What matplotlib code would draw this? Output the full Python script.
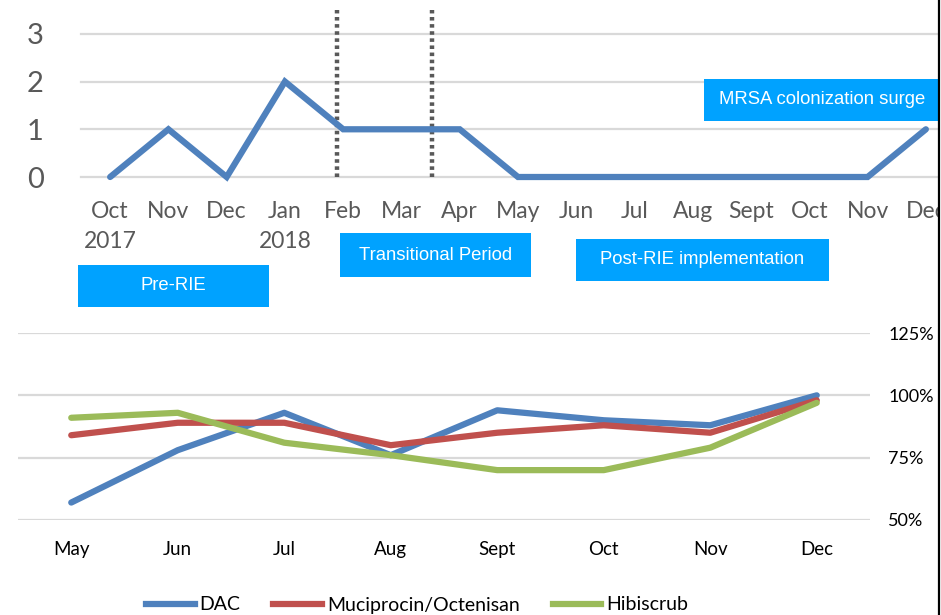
import matplotlib
matplotlib.use('Agg')
import matplotlib.pyplot as plt
from matplotlib.patches import Rectangle
from matplotlib.lines import Line2D

# top panel: MRSA colonization counts per month
top_months = ["Oct\n2017", "Nov", "Dec", "Jan\n2018", "Feb", "Mar", "Apr", "May",
              "Jun", "Jul", "Aug", "Sept", "Oct", "Nov", "Dec"]
top_counts = [0, 1, 0, 2, 1, 1, 1, 0, 0, 0, 0, 0, 0, 0, 1]

# bottom panel: compliance per product
bot_months = ["May", "Jun", "Jul", "Aug", "Sept", "Oct", "Nov", "Dec"]
dac = [57, 78, 93, 76, 94, 90, 88, 100]
mucip = [84, 89, 89, 80, 85, 88, 85, 98]
hibi = [91, 93, 81, 76, 70, 70, 79, 97]

W, H = 941, 615
fig = plt.figure(figsize=(W/100, H/100), dpi=100)
fig.patch.set_facecolor('white')

def px_axes(l, t, r, b):
  return fig.add_axes([l/W, (H-b)/H, (r-l)/W, (b-t)/H])

blue = '#4F81BD'
red = '#C0504D'
green = '#9BBB59'
grid_c = '#D9D9D9'
txt_c = '#595959'
box_c = '#00A2FF'

#---- top chart
ax = px_axes(81, 10, 955, 177)
x = list(range(len(top_counts)))
ax.plot(x, top_counts, color=blue, lw=4.5, solid_capstyle='round', solid_joinstyle='miter', clip_on=False, zorder=3)
ax.set_xlim(-0.5, len(top_counts)-0.5)
ax.set_ylim(0, 3.5)
ax.set_yticks([0, 1, 2, 3])
for yv in [0, 1, 2, 3]:
  ax.axhline(yv, color=grid_c, lw=1.6, zorder=1, clip_on=False)
ax.set_xticks(x)
ax.set_xticklabels(top_months, fontsize=16.5, color=txt_c, family='Lato', linespacing=1.55)
ax.tick_params(axis='x', length=0, pad=17)
ax.tick_params(axis='y', length=0, pad=27, labelsize=21, labelcolor=txt_c)
for lab in ax.get_yticklabels():
  lab.set_family('Lato')
for s in ax.spines.values():
  s.set_visible(False)
# transition period markers
for xv in [3.9, 5.53]:
  ax.axvline(xv, ymin=0, ymax=1, color=txt_c, lw=3.2, ls=(0, (0.8, 0.8)), zorder=2)

#---- bottom chart
bx = px_axes(18, 333, 870, 520)
xb = list(range(len(bot_months)))
bx.plot(xb, dac, color=blue, lw=4.5, solid_capstyle='round', label='DAC', zorder=3)
bx.plot(xb, mucip, color=red, lw=4.5, solid_capstyle='round', label='Muciprocin/Octenisan', zorder=3)
bx.plot(xb, hibi, color=green, lw=4.5, solid_capstyle='round', label='Hibiscrub', zorder=3)
bx.set_xlim(-0.5, len(bot_months)-0.5)
bx.set_ylim(50, 125)
bx.set_yticks([50, 75, 100, 125])
bx.set_yticklabels([f"{v}%" for v in [50, 75, 100, 125]], family='Lato', fontsize=13)
for yv in [50, 75, 100, 125]:
  bx.axhline(yv, color=grid_c, lw=1.6, zorder=1)
bx.yaxis.tick_right()
bx.set_xticks(xb)
bx.set_xticklabels(bot_months, family='Lato', fontsize=13.5)
bx.tick_params(axis='x', length=0, pad=15)
bx.tick_params(axis='y', length=0, pad=13)
for s in bx.spines.values():
  s.set_visible(False)
leg = fig.legend(handles=[Line2D([], [], color=c, lw=4.5) for c in (blue, red, green)],
                 labels=['DAC', 'Muciprocin/Octenisan', 'Hibiscrub'],
                 loc='center', bbox_to_anchor=(417/W, (H-605)/H), ncol=3, frameon=False,
                 prop={'family': 'Lato', 'size': 14}, handlelength=2.5, handletextpad=0.25,
                 columnspacing=1.7)

#---- period boxes
def box(l, t, r, b, s):
  fig.patches.append(Rectangle((l/W, (H-b)/H), (r-l)/W, (b-t)/H, transform=fig.transFigure,
                               facecolor=box_c, edgecolor='none', zorder=5))
  fig.text((l+r)/2/W, (H-(t+b)/2)/H, s, color='white', ha='center', va='center',
           family='Liberation Sans', fontsize=13.3, zorder=6)

box(78, 265, 269, 307, "Pre-RIE")
box(340, 233, 531, 277, "Transitional Period")
box(576, 239, 829, 281, "Post-RIE implementation")
box(704, 79, 940, 121, "MRSA colonization surge")

# right edge
fig.patches.append(Rectangle((939.5/W, 0), 2/W, 1, transform=fig.transFigure,
                             facecolor='white', edgecolor='none', zorder=7))
fig.lines.append(Line2D([938.5/W, 938.5/W], [0, 1], transform=fig.transFigure,
                        color='black', lw=1.6, zorder=8))

fig.savefig("out.png", dpi=100, facecolor='white')
